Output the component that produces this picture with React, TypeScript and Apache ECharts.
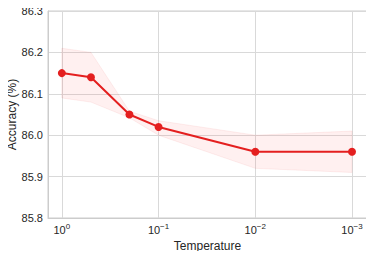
import React, { useEffect, useRef } from "react";
import * as echarts from "echarts";

const temps = [1, 0.5, 0.2, 0.1, 0.01, 0.001];
const accuracy = [86.15, 86.14, 86.05, 86.02, 85.96, 85.96];
const upper = [86.21, 86.2, 86.058, 86.035, 86.0, 86.01];
const lower = [86.09, 86.08, 86.042, 86.0, 85.92, 85.91];
const yTicks = [85.8, 85.9, 86.0, 86.1, 86.2, 86.3];

const FONT = "Liberation Sans, Arial, sans-serif";

export default function App() {
  const ref = useRef<HTMLDivElement>(null);
  useEffect(() => {
    if (!ref.current) return;
    const chart = echarts.init(ref.current, null, { renderer: "svg" });
    chart.setOption({
      animation: false,
      backgroundColor: "#ffffff",
      textStyle: { fontFamily: FONT },
      grid: {
        left: 48,
        right: 7,
        top: 11,
        bottom: 41,
        show: true,
        borderColor: "#cccccc",
        borderWidth: 1,
        outerBoundsMode: "none",
      },
      xAxis: {
        type: "log",
        logBase: 10,
        inverse: true,
        min: 0.0007,
        max: 1.39,
        name: "Temperature",
        nameLocation: "middle",
        nameGap: 22,
        nameMoveOverlap: false,
        nameTextStyle: { fontSize: 12, color: "#262626", fontFamily: FONT },
        axisLine: { show: true, lineStyle: { color: "#cccccc", width: 1 } },
        axisTick: { show: false },
        minorTick: { show: false },
        splitLine: { show: true, lineStyle: { color: "#d9d9d9", width: 1 } },
        axisLabel: {
          margin: 4,
          showMinLabel: false,
          showMaxLabel: false,
          formatter: (v: number) => {
            const e = Math.round(Math.log10(v));
            if (Math.abs(Math.log10(v) - e) > 1e-6) return "";
            const s = e === 0 ? "0" : "\u2212" + Math.abs(e);
            return "{b|10}{s|" + s + "}";
          },
          rich: {
            b: { fontSize: 11, color: "#262626", fontFamily: FONT },
            s: {
              fontSize: 8,
              color: "#262626",
              fontFamily: FONT,
              padding: [0, 0, 7, 0],
            },
          },
        },
      },
      yAxis: {
        type: "value",
        min: yTicks[0],
        max: yTicks[yTicks.length - 1],
        interval: 0.1,
        name: "Accuracy (%)",
        nameLocation: "middle",
        nameGap: 36,
        nameMoveOverlap: false,
        nameTextStyle: { fontSize: 12, color: "#262626", fontFamily: FONT, verticalAlign: "middle" },
        axisLine: { show: true, lineStyle: { color: "#cccccc", width: 1 } },
        axisTick: { show: false },
        splitLine: { show: true, lineStyle: { color: "#d9d9d9", width: 1 } },
        axisLabel: {
          margin: 5,
          fontSize: 11,
          color: "#262626",
          fontFamily: FONT,
          formatter: (v: number) => v.toFixed(1),
        },
      },
      series: [
        {
          type: "custom",
          silent: true,
          z: 1,
          data: temps.map((t, i) => [t, upper[i], lower[i]]),
          renderItem: (params: any, api: any) => {
            if (params.dataIndex !== 0) return null;
            const top = temps.map((t, i) => api.coord([t, upper[i]]));
            const bot = temps
              .map((t, i) => api.coord([t, lower[i]]))
              .reverse();
            return {
              type: "polygon",
              shape: { points: top.concat(bot) },
              style: { fill: "rgba(255,60,60,0.08)", stroke: "rgba(240,100,100,0.1)", lineWidth: 1 },
            };
          },
        },
        {
          type: "line",
          z: 3,
          data: temps.map((t, i) => [t, accuracy[i]]),
          symbol: "circle",
          symbolSize: 8,
          lineStyle: { color: "#e41f1f", width: 2 },
          itemStyle: { color: "#e41f1f" },
        },
      ],
    });
    return () => chart.dispose();
  }, []);
  return <div ref={ref} style={{ width: 374, height: 259, margin: -8 }} />;
}
